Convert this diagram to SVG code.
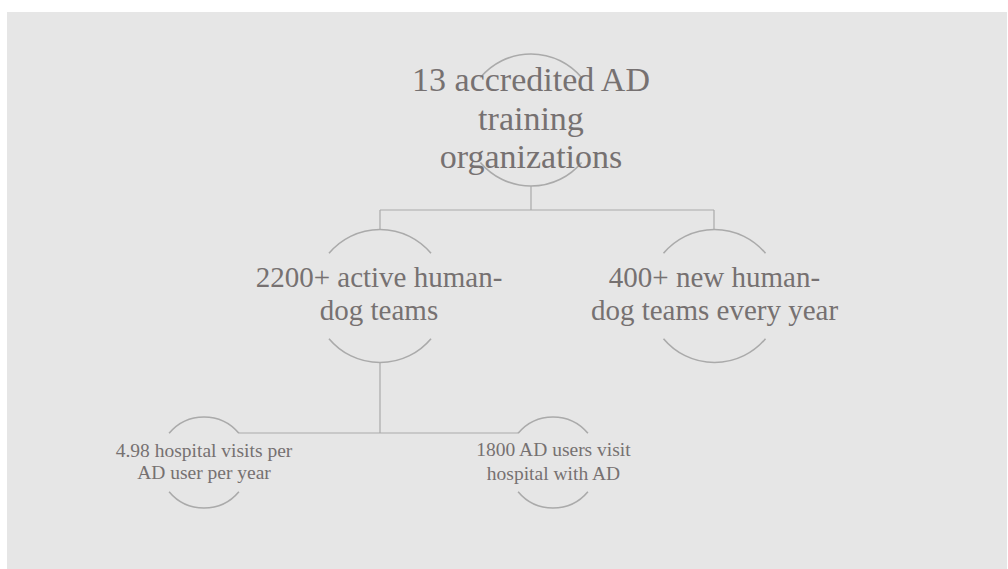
<svg xmlns="http://www.w3.org/2000/svg" width="1008" height="569" viewBox="0 0 1008 569">
<style>
.arc{fill:none;stroke:#aaaaaa;stroke-width:1.6}
.conn{fill:none;stroke:#aaaaaa;stroke-width:1.2}
.t{font-family:"Liberation Serif","DejaVu Serif",serif;fill:#767171;text-anchor:middle}
.big{font-size:34px}
.mid{font-size:29px}
.sm{font-size:19.5px}
</style>
<rect x="0" y="0" width="1008" height="569" fill="#ffffff"/>
<rect x="7" y="12" width="1000" height="557" fill="#e6e6e6"/>
<g id="connectors">
<path class="conn" d="M531 186 V210 M380 210 H714 M380 210 V229.5 M714 210 V229.5"/>
<path class="conn" d="M380 362.5 V433 M239 433 H518"/>
</g>
<g id="node-top">
<path class="arc" d="M480.4 77.6 A66 66 0 0 1 581.6 77.6 M480.4 162.4 A66 66 0 0 0 581.6 162.4"/>
<text class="t big" x="531" y="91">13 accredited AD</text>
<text class="t big" x="531" y="130">training</text>
<text class="t big" x="531" y="168">organizations</text>
</g>
<g id="node-active">
<path class="arc" d="M329 253.3 A66.5 66.5 0 0 1 431 253.3 M329 338.7 A66.5 66.5 0 0 0 431 338.7"/>
<text class="t mid" x="379" y="287">2200+ active human-</text>
<text class="t mid" x="379" y="320">dog teams</text>
</g>
<g id="node-new">
<path class="arc" d="M663.5 253.3 A66.5 66.5 0 0 1 765.5 253.3 M663.5 338.7 A66.5 66.5 0 0 0 765.5 338.7"/>
<text class="t mid" x="714.5" y="287">400+ new human-</text>
<text class="t mid" x="714.5" y="320">dog teams every year</text>
</g>
<g id="node-visits">
<path class="arc" d="M169.1 433.3 A45.5 45.5 0 0 1 238.9 433.3 M169.1 491.7 A45.5 45.5 0 0 0 238.9 491.7"/>
<text class="t sm" x="204" y="457">4.98 hospital visits per</text>
<text class="t sm" x="204" y="479">AD user per year</text>
</g>
<g id="node-users">
<path class="arc" d="M518.1 433.3 A45.5 45.5 0 0 1 587.9 433.3 M518.1 491.7 A45.5 45.5 0 0 0 587.9 491.7"/>
<text class="t sm" x="553.5" y="456">1800 AD users visit</text>
<text class="t sm" x="553.5" y="480">hospital with AD</text>
</g>
</svg>
